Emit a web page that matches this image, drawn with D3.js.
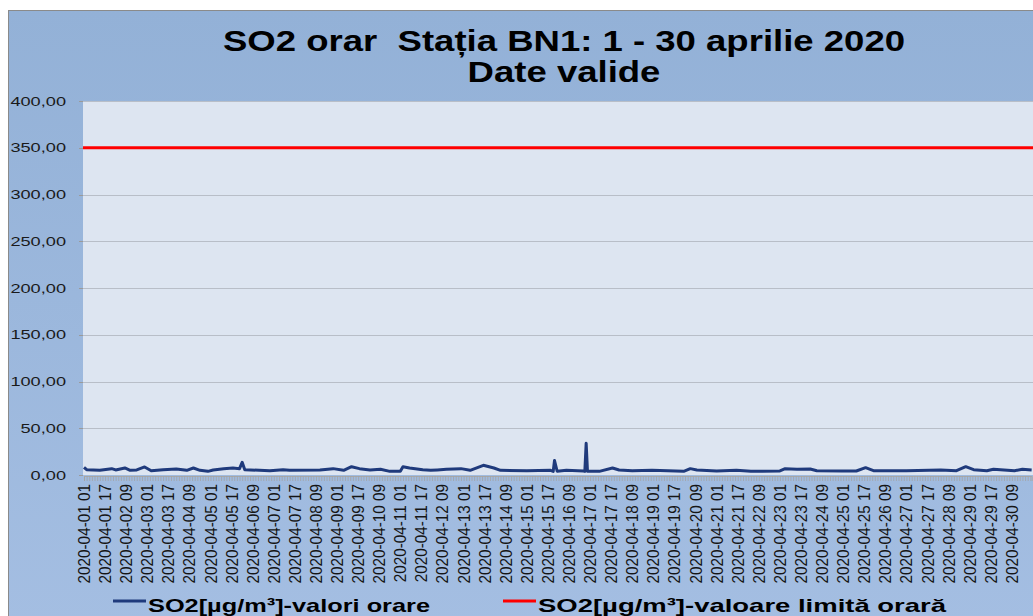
<!DOCTYPE html>
<html>
<head>
<meta charset="utf-8">
<script src="https://cdn.jsdelivr.net/npm/d3@7"></script>
<style>
    body { margin: 0; background: #ffffff; }
    text { font-family: "Liberation Sans", Arial, sans-serif; white-space: pre; }
</style>
</head>
<body>
<div id="chart-area"></div>
<script>
// hourly SO2 readings, hour index counted from 2020-04-01 01
const hours = [0, 2, 12, 21, 24, 31, 35, 40, 46, 51, 60, 70, 78, 83, 88, 94, 98, 106, 113, 118,
    120, 122, 133, 141, 151, 156, 179, 189, 197, 203, 209, 217, 225, 232, 240, 242, 247, 257, 263, 268,
    275, 286, 293, 303, 311, 316, 336, 354, 356, 357, 359, 366, 379, 380, 381, 382, 391, 401, 406,
    416, 431, 455, 460, 465, 480, 495, 506, 528, 532, 541, 551, 556, 575, 586, 593, 599, 624, 650, 662,
    669, 675, 685, 690, 706, 712, 719];
const so2Values = [8.2, 5.7, 5.0, 6.8, 5.4, 7.5, 5.0, 5.4, 8.6, 4.6, 5.7, 6.4, 5.0, 7.5, 5.0, 3.9, 5.4, 6.8, 7.5, 6.8,
    13.5, 5.7, 5.0, 4.6, 5.7, 5.0, 5.4, 6.8, 5.0, 8.9, 6.8, 5.4, 6.1, 3.9, 3.9, 8.9, 7.5, 5.7, 5.0, 5.4,
    6.1, 6.8, 5.0, 10.4, 7.5, 5.0, 4.6, 5.0, 3.9, 15.5, 4.0, 5.0, 4.3, 3.9, 34.0, 3.9, 3.9, 7.5, 5.4,
    4.6, 5.0, 3.9, 6.8, 5.4, 4.3, 5.0, 3.9, 4.3, 6.8, 6.1, 6.4, 4.6, 4.3, 4.3, 7.8, 4.6, 4.6, 5.4, 4.6,
    8.9, 5.7, 4.6, 6.1, 4.6, 6.1, 5.4];
const limitValue = 350;
const totalHours = 720;
const labelStep = 16;

const yTicks = [0, 50, 100, 150, 200, 250, 300, 350, 400];
const tickLabels = [
    "2020-04-01 01", "2020-04-01 17", "2020-04-02 09", "2020-04-03 01", "2020-04-03 17",
    "2020-04-04 09", "2020-04-05 01", "2020-04-05 17", "2020-04-06 09", "2020-04-07 01",
    "2020-04-07 17", "2020-04-08 09", "2020-04-09 01", "2020-04-09 17", "2020-04-10 09",
    "2020-04-11 01", "2020-04-11 17", "2020-04-12 09", "2020-04-13 01", "2020-04-13 17",
    "2020-04-14 09", "2020-04-15 01", "2020-04-15 17", "2020-04-16 09", "2020-04-17 01",
    "2020-04-17 17", "2020-04-18 09", "2020-04-19 01", "2020-04-19 17", "2020-04-20 09",
    "2020-04-21 01", "2020-04-21 17", "2020-04-22 09", "2020-04-23 01", "2020-04-23 17",
    "2020-04-24 09", "2020-04-25 01", "2020-04-25 17", "2020-04-26 09", "2020-04-27 01",
    "2020-04-27 17", "2020-04-28 09", "2020-04-29 01", "2020-04-29 17", "2020-04-30 09"
];
const titleLines = ["SO2 orar  Stația BN1: 1 - 30 aprilie 2020", "Date valide"];
const seriesNames = ["SO2[µg/m³]-valori orare", "SO2[µg/m³]-valoare limită orară"];
const seriesColors = ["#1f3a7c", "#ff0000"];

const W = 1033, H = 616;
const plot = {left: 83, top: 101, right: 1040, bottom: 475};

const svg = d3.select("#chart-area").append("svg")
    .attr("width", W)
    .attr("height", H);

let defs = svg.append("defs");
let grad = defs.append("linearGradient")
    .attr("id", "bg")
    .attr("x1", 0).attr("y1", 0).attr("x2", 0).attr("y2", 1);
grad.append("stop").attr("offset", "0%").attr("stop-color", "#93b1d7");
grad.append("stop").attr("offset", "100%").attr("stop-color", "#a4bee2");

// outer chart area
svg.append("rect")
    .attr("x", 8.5).attr("y", 10.5)
    .attr("width", W).attr("height", H)
    .attr("fill", "url(#bg)")
    .attr("stroke", "#8a8a8a");

svg.append("rect")
    .attr("x", plot.left).attr("y", plot.top)
    .attr("width", plot.right - plot.left).attr("height", plot.bottom - plot.top)
    .attr("fill", "#dde5f1");

const x = d3.scaleLinear()
    .domain([0, totalHours - 1])
    .range([84, 84 + (totalHours - 1) * 1.318]);

const y = d3.scaleLinear()
    .domain([0, 400])
    .range([plot.bottom, plot.top]);

// gridlines
svg.append("g")
    .selectAll("line")
    .data(yTicks.filter(d => d > 0))
    .enter().append("line")
    .attr("x1", plot.left).attr("x2", plot.right)
    .attr("y1", d => Math.round(y(d)) + 0.5)
    .attr("y2", d => Math.round(y(d)) + 0.5)
    .attr("stroke", "#b8bec8")
    .attr("stroke-width", 1);

// y axis labels
let yAxis = svg.append("g");
yAxis.selectAll("text")
    .data(yTicks)
    .enter().append("text")
    .attr("transform", d => "translate(66," + y(d) + ") scale(1.4,1)")
    .attr("text-anchor", "end")
    .attr("dy", "0.35em")
    .attr("font-size", 13)
    .attr("fill", "#1a1a1a")
    .text(d => d3.format(".2f")(d).replace(".", ","));
yAxis.selectAll("line")
    .data(yTicks)
    .enter().append("line")
    .attr("x1", plot.left - 4).attr("x2", plot.left)
    .attr("y1", d => Math.round(y(d)) + 0.5)
    .attr("y2", d => Math.round(y(d)) + 0.5)
    .attr("stroke", "#9a9a9a");

// x axis: dense hourly ticks
let xAxis = svg.append("g")
    .attr("transform", "translate(0," + (plot.bottom + 1) + ")");
xAxis.call(d3.axisBottom(x)
        .tickValues(d3.range(0, totalHours, 2))
        .tickSize(5)
        .tickFormat(""))
    .call(g => g.select(".domain").attr("stroke", "#a8a8a8"))
    .call(g => g.selectAll(".tick line").attr("stroke", "#a3a3a3").attr("stroke-width", 0.8));

svg.append("g")
    .selectAll("text")
    .data(tickLabels)
    .enter().append("text")
    .attr("transform", (d, i) => "translate(" + x(i * labelStep) + "," + (plot.bottom + 9) + ") rotate(-90) scale(1,1.12)")
    .attr("text-anchor", "end")
    .attr("dy", "0.35em")
    .attr("font-size", 15.3)
    .attr("fill", "#151515")
    .text(d => d);

// limit line
svg.append("line")
    .attr("x1", plot.left).attr("x2", plot.right)
    .attr("y1", y(limitValue)).attr("y2", y(limitValue))
    .attr("stroke", seriesColors[1])
    .attr("stroke-width", 3);

// SO2 line
const line = d3.line()
    .x(d => x(d[0]))
    .y(d => y(d[1]));

svg.append("path")
    .datum(d3.zip(hours, so2Values))
    .attr("d", line)
    .attr("fill", "none")
    .attr("stroke", seriesColors[0])
    .attr("stroke-width", 3)
    .attr("stroke-linejoin", "round");

// title
svg.selectAll(".title")
    .data(titleLines)
    .enter().append("text")
    .attr("class", "title")
    .attr("transform", (d, i) => "translate(564," + (51 + i * 31) + ") scale(1.26,1)")
    .attr("text-anchor", "middle")
    .attr("font-size", 29)
    .attr("font-weight", "bold")
    .attr("fill", "#000")
    .text(d => d);

// legend
const legendX = [113, 503];
const legendWidths = [282, 408];
let legend = svg.selectAll(".legend")
    .data(seriesNames)
    .enter().append("g")
    .attr("class", "legend")
    .attr("transform", (d, i) => "translate(" + legendX[i] + ",0)");
legend.append("line")
    .attr("x1", 0).attr("x2", 33)
    .attr("y1", 601).attr("y2", 601)
    .attr("stroke", (d, i) => seriesColors[i])
    .attr("stroke-width", 3);
legend.append("text")
    .attr("x", 35)
    .attr("y", 612)
    .attr("textLength", (d, i) => legendWidths[i])
    .attr("lengthAdjust", "spacingAndGlyphs")
    .attr("font-size", 19)
    .attr("font-weight", "bold")
    .attr("fill", "#000")
    .text(d => d);
</script>
</body>
</html>
